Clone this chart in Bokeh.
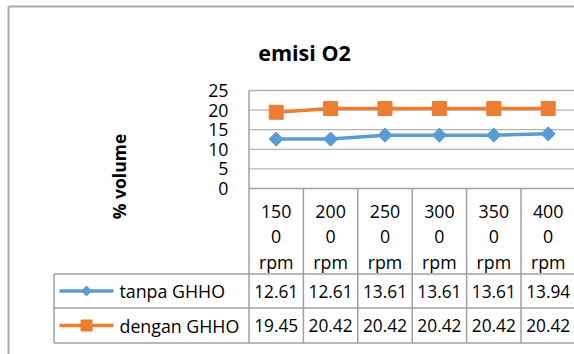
import math
from bokeh.plotting import figure
from bokeh.models import Range1d
from bokeh.core.properties import value
from bokeh.embed import file_html
from bokeh.resources import INLINE

# ---------------- data ----------------
title_text = "emisi O2"
y_title = "% volume"
categories = ["1500 rpm", "2000 rpm", "2500 rpm", "3000 rpm", "3500 rpm", "4000 rpm"]
series_names = ["tanpa GHHO", "dengan GHHO"]
tanpa = [12.61, 12.61, 13.61, 13.61, 13.61, 13.94]
dengan = [19.45, 20.42, 20.42, 20.42, 20.42, 20.42]
y_ticks = [0, 5, 10, 15, 20, 25]

# ---------------- layout (pixels) ----------------
W, H = 574, 354
PLOT_L = 248.5     # left edge of plot / table columns
COL_W = 54.4       # width of a category column
PLOT_T = 90.0      # pixel of top tick
PLOT_B = 188.0     # pixel of 0
Y_MAX = y_ticks[-1]
ROW_LINES = [273.5, 307.5, 342.5]
LEG_L = 53.5

FONT = value("Open Sans")
FS = "17.8px"
BLUE = "#5B9BD5"
ORANGE = "#ED7D31"
GRID = "#B3B3B3"
BORDER = "#A0A0A0"

ppu = (PLOT_B - PLOT_T) / Y_MAX
x_start = 0.5 - PLOT_L / COL_W
x_end = x_start + W / COL_W
y_end = PLOT_B / ppu
y_start = y_end - H / ppu


def X(px):
    return x_start + px / COL_W


def Y(py):
    return y_end - py / ppu


p = figure(width=W, height=H, output_backend="svg", toolbar_location=None,
           x_range=Range1d(x_start, x_end), y_range=Range1d(y_start, y_end),
           x_axis_type=None, y_axis_type=None, min_border=0)
p.outline_line_color = None
p.grid.visible = False
p.background_fill_color = "white"
p.border_fill_color = "white"

n = len(categories)
xs = list(range(1, n + 1))

# outer chart border
p.segment(x0=[X(8), X(8)], y0=[Y(6), Y(6)], x1=[X(8), x_end], y1=[y_start, Y(6)],
          line_color="#A8A8A8", line_width=2)

# gridlines
gt = y_ticks[1:]
p.segment(x0=[0.5] * len(gt), y0=gt, x1=[x_end] * len(gt), y1=gt,
          line_color=GRID, line_width=1.3)

# table lines
p.segment(x0=[0.5], y0=[0], x1=[x_end], y1=[0], line_color=BORDER, line_width=1.5)
p.segment(x0=[0.5], y0=[Y_MAX], x1=[0.5], y1=[Y(ROW_LINES[-1])],
          line_color=BORDER, line_width=1.5)
vx = [i + 0.5 for i in range(1, n + 1)]
p.segment(x0=vx, y0=[0] * n, x1=vx, y1=[Y(ROW_LINES[-1])] * n,
          line_color=BORDER, line_width=1.5)
p.segment(x0=[X(LEG_L)] * 3, y0=[Y(r) for r in ROW_LINES],
          x1=[x_end] * 3, y1=[Y(r) for r in ROW_LINES],
          line_color=BORDER, line_width=1.5)
p.segment(x0=[X(LEG_L)], y0=[Y(ROW_LINES[0])], x1=[X(LEG_L)], y1=[Y(ROW_LINES[-1])],
          line_color=BORDER, line_width=1.5)

# series
p.line(xs, tanpa, line_color=BLUE, line_width=3.5)
p.scatter(xs, tanpa, marker="square", angle=math.pi / 4, size=10,
          fill_color=BLUE, line_color=BLUE)
p.line(xs, dengan, line_color=ORANGE, line_width=3.5)
p.scatter(xs, dengan, marker="square", size=14, fill_color=ORANGE, line_color=ORANGE)

# title
p.text(x=[X(304)], y=[Y(51.5)], text=[title_text], text_font=FONT,
       text_font_size="21.5px", text_font_style="bold", text_align="center",
       text_baseline="alphabetic", text_color="black")

# y axis title
p.text(x=[X(118)], y=[Y(176)], text=[y_title], text_font=FONT,
       text_font_size="17.5px", text_font_style="bold", text_align="center",
       text_baseline="middle", angle=math.pi / 2, text_color="black")

# y tick labels
p.text(x=[X(228)] * len(y_ticks), y=y_ticks, text=[str(t) for t in y_ticks],
       text_font=FONT, text_font_size=FS, text_align="right",
       text_baseline="middle", text_color="black")

# category header (wrapped)
lines_base = [210.7, 236.3, 261.3]
for c_i, cat in enumerate(categories):
    num, unit = cat.split()
    parts = [num[:3], num[3:], unit]
    p.text(x=[xs[c_i]] * 3, y=[Y(b) for b in lines_base], text=parts,
           text_font=FONT, text_font_size=FS, text_align="center",
           text_baseline="alphabetic", text_color="black")

# data rows
row_mid = [(ROW_LINES[0] + ROW_LINES[1]) / 2, (ROW_LINES[1] + ROW_LINES[2]) / 2]
for r_i, vals in enumerate([tanpa, dengan]):
    ym = Y(row_mid[r_i])
    p.text(x=xs, y=[ym] * n, text=[f"{v:.2f}" for v in vals],
           text_font=FONT, text_font_size="17.3px", text_align="center",
           text_baseline="middle", text_color="black")

# legend keys in table
colors = [BLUE, ORANGE]
for r_i, name in enumerate(series_names):
    ym = Y(row_mid[r_i])
    p.segment(x0=[X(59)], y0=[ym], x1=[X(113)], y1=[ym],
              line_color=colors[r_i], line_width=3.3)
    if r_i == 0:
        p.scatter([X(86)], [ym], marker="square", angle=math.pi / 4, size=7,
                  fill_color=BLUE, line_color=BLUE)
    else:
        p.scatter([X(86)], [ym], marker="square", size=11,
                  fill_color=ORANGE, line_color=ORANGE)
    p.text(x=[X(119)], y=[ym], text=[name], text_font=FONT,
           text_font_size=FS, text_align="left", text_baseline="middle",
           text_color="black")

open("out.html", "w").write(file_html(p, INLINE))
